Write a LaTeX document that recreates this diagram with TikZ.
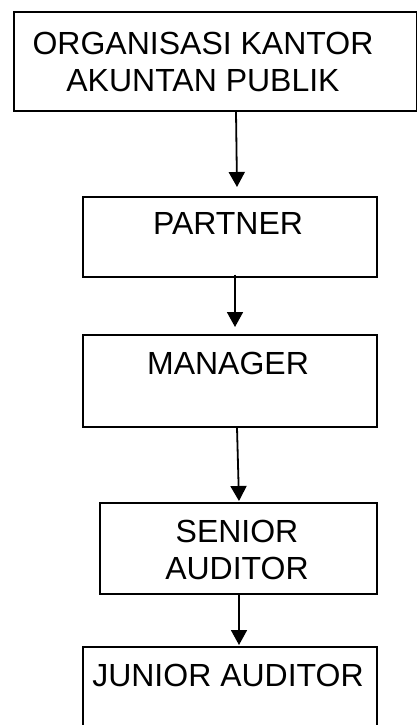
\documentclass[tikz,border=0pt]{standalone}
\usepackage{fontspec}
\setmainfont{Liberation Sans}
\usetikzlibrary{calc,arrows.meta}
\tikzset{
  box/.style={draw=black, line width=1.6pt, rectangle, inner sep=0pt, anchor=north west},
  arr/.style={draw=black, line width=1.8pt, -{Triangle[length=15pt,width=16pt]}},
  lab/.style={text=black, align=center, inner sep=0pt, font=\fontsize{32}{37}\selectfont},
}
\begin{document}
\begin{tikzpicture}[x=1pt,y=-1pt]
  \useasboundingbox (0,0) rectangle (417,725);
  \clip (0,0) rectangle (417,725);
  % boxes
  \node[box, minimum width=403pt, minimum height=99pt] (org) at (13,11) {};
  \node[box, minimum width=294pt, minimum height=80pt] (partner) at (82,196) {};
  \node[box, minimum width=294pt, minimum height=92pt] (manager) at (82,334) {};
  \node[box, minimum width=277pt, minimum height=91pt] (senior) at (99,502) {};
  \node[box, minimum width=294pt, minimum height=100pt] (junior) at (82,646) {};
  % texts
  \node[lab] (orglab) at (203,61.5) {ORGANISASI KANTOR\\AKUNTAN PUBLIK};
  \node[lab] (partnerlab) at (228,223) {PARTNER};
  \node[lab] (managerlab) at (228,363) {MANAGER};
  \node[lab] (seniorlab) at (237,549.5) {SENIOR\\AUDITOR};
  \node[lab] (juniorlab) at (228,675) {JUNIOR AUDITOR};
  % arrows
  \draw[arr] ($(org.south west)+(223,0)$) -- ($(partner.north west)+(155,-9)$);
  \draw[arr] ($(partner.south west)+(153,-3)$) -- ($(manager.north west)+(153,-7)$);
  \draw[arr] ($(manager.south west)+(155,0)$) -- ($(senior.north west)+(140,-1)$);
  \draw[arr] ($(senior.south west)+(140,0)$) -- ($(junior.north west)+(157,-1)$);
\end{tikzpicture}
\end{document}
